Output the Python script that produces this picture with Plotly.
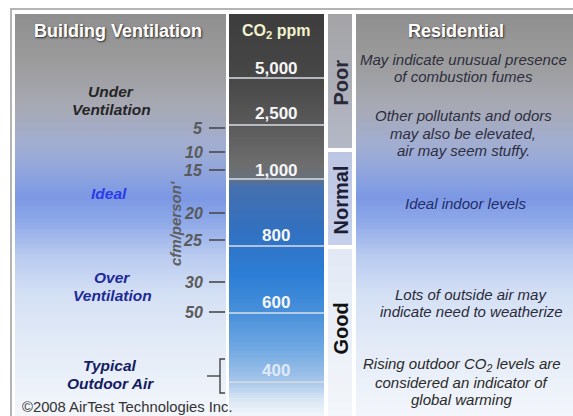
import numpy as np
import plotly.graph_objects as go

# ---------------- data ----------------
co2_levels = ["5,000", "2,500", "1,000", "800", "600", "400"]
air_quality = ["Poor", "Normal", "Good"]
cfm_ticks = ["5", "10", "15", "20", "25", "30", "50"]
ventilation_zones = ["Under<br>Ventilation", "Ideal", "Over<br>Ventilation", "Typical<br>Outdoor Air"]
residential_notes = [
    "May indicate unusual presence<br>of combustion fumes",
    "Other pollutants and odors<br>may also be elevated,<br>air may seem stuffy.",
    "Ideal indoor levels",
    "Lots of outside air may<br>indicate need to weatherize",
    "Rising outdoor CO<sub>2</sub> levels are<br>considered an indicator of<br>global warming",
]
headers = ["Building Ventilation", "CO<sub>2</sub> ppm", "Residential"]
axis_title = "cfm/person'"
copyright_text = "©2008 AirTest Technologies Inc."

# ---------------- layout (pixel positions) ----------------
W, H = 573, 416
TOP = 14
LEFT = (15, 226)
CO2 = (229, 324)
QUAL = (328, 352)
RIGHT = (356, 573)
co2_label_y = [68, 113, 170, 235, 302, 370]
co2_line_y = [78, 125, 179, 246, 313, 382]
quality_span = [(14, 148), (152, 245), (249, 416)]
quality_center = [83, 200, 329]
cfm_tick_y = [128, 152, 170, 213, 240, 282, 312]
zone_y = [100, 193, 286, 374]
zone_x = [111, 109, 112, 110]
zone_colors = ["#262626", "#2a3ce8", "#1e2a96", "#141c64"]
notes_y = [68, 133, 203, 303, 382]
notes_x = [463, 463, 465, 471, 462]
notes_colors = ["#2e2e3e", "#2e2e3e", "#1e2c6c", "#2a2a3a", "#2a2a2a"]

FONT = "Liberation Sans, Arial, sans-serif"

side_stops = [(14, "#8f8f8f"), (60, "#9b9b9b"), (105, "#a7a9b3"), (145, "#a2aed2"),
              (175, "#8ea4de"), (198, "#7c98e4"), (222, "#8fa9e8"), (255, "#b8caef"),
              (295, "#d4e0f4"), (345, "#e3ebf7"), (416, "#f3f6fb")]
co2_stops = [(14, "#3d3d3d"), (78, "#474747"), (125, "#5a5a5a"), (165, "#6e6e6e"),
             (179, "#68717e"), (186, "#4670ae"), (230, "#3270c0"), (275, "#2c7ed6"),
             (313, "#4890da"), (350, "#72a9e2"), (382, "#a6c6ea"), (398, "#d6e4f3"),
             (416, "#f2f6fb")]
quality_stops = [
    [(0, "#a4a4a6"), (1, "#b4b8c6")],
    [(0, "#bcc5e2"), (1, "#c6cfec")],
    [(0, "#e2e9f5"), (1, "#f3f6fa")],
]


def vgrad(x0, x1, y0, y1, stops, relative=False, n=160):
    ys = np.linspace(y0, y1, n + 1)
    centers = (ys[:-1] + ys[1:]) / 2
    z = centers.reshape(-1, 1)
    if relative:
        cs = [[s, c] for s, c in stops]
    else:
        cs = [[(s - y0) / (y1 - y0), c] for s, c in stops]
    return go.Heatmap(x=[x0, x1], y=ys, z=z, colorscale=cs, zmin=y0, zmax=y1,
                      showscale=False, hoverinfo="skip")


fig = go.Figure()
fig.add_trace(vgrad(LEFT[0], LEFT[1], TOP, H, side_stops))
fig.add_trace(vgrad(CO2[0], CO2[1], TOP, H, co2_stops))
fig.add_trace(vgrad(RIGHT[0], RIGHT[1], TOP, H, side_stops))
for (y0, y1), st in zip(quality_span, quality_stops):
    fig.add_trace(vgrad(QUAL[0], QUAL[1], y0, y1, st, relative=True, n=60))

shapes = []
# outer frame
shapes.append(dict(type="line", x0=10, x1=W, y0=9, y1=9, line=dict(color="#b4b4b4", width=2)))
shapes.append(dict(type="line", x0=11, x1=11, y0=9, y1=H, line=dict(color="#b4b4b4", width=2)))
# CO2 band lines
for y in co2_line_y:
    shapes.append(dict(type="line", x0=CO2[0], x1=CO2[1], y0=y, y1=y,
                       line=dict(color="#d8dde4", width=1.5)))
# cfm tick dashes
for y in cfm_tick_y:
    shapes.append(dict(type="line", x0=209, x1=225, y0=y, y1=y,
                       line=dict(color="#4a4a4a", width=1.6)))
# outdoor air bracket
shapes.append(dict(type="path", path="M 225 359 L 220 359 L 220 393 L 225 393",
                   line=dict(color="#444444", width=1.4)))
shapes.append(dict(type="line", x0=207, x1=220, y0=376, y1=376,
                   line=dict(color="#444444", width=1.4)))

ann = []
shadow = "1px 1px 2px #2a2a2a"
ann.append(dict(x=118, y=31, text="<b>" + headers[0] + "</b>", showarrow=False,
                font=dict(family=FONT, size=18, color="#ffffff", shadow=shadow)))
ann.append(dict(x=276, y=31, text="<b>" + headers[1] + "</b>", showarrow=False,
                font=dict(family=FONT, size=16, color="#f2f2cc")))
ann.append(dict(x=456, y=31, text="<b>" + headers[2] + "</b>", showarrow=False,
                font=dict(family=FONT, size=18, color="#ffffff", shadow=shadow)))

for lab, y in zip(co2_levels, co2_label_y):
    col = "#dfeaf6" if lab == "400" else "#f6f6f6"
    ann.append(dict(x=276, y=y, text="<b>" + lab + "</b>", showarrow=False,
                    font=dict(family=FONT, size=17, color=col)))

q_colors = ["#2a2a3a", "#1e1e36", "#111111"]
for lab, y, c in zip(air_quality, quality_center, q_colors):
    ann.append(dict(x=340.5, y=y, text="<b>" + lab + "</b>", showarrow=False, textangle=-90,
                    font=dict(family=FONT, size=20, color=c)))

for lab, y in zip(cfm_ticks, cfm_tick_y):
    ann.append(dict(x=205, y=y, text="<b><i>" + lab + "</i></b>", showarrow=False,
                    xanchor="right", font=dict(family=FONT, size=16, color="#5a5a5a")))

ann.append(dict(x=175, y=224, text="<b><i>" + axis_title + "</i></b>", showarrow=False,
                textangle=-90, font=dict(family=FONT, size=15, color="#5e5e5e")))

for txt, x, y, c in zip(ventilation_zones, zone_x, zone_y, zone_colors):
    lines = txt.split("<br>")
    n = len(lines)
    for i, ln in enumerate(lines):
        yy = y + (i - (n - 1) / 2) * 18
        ann.append(dict(x=x, y=yy, text="<b><i>" + ln + "</i></b>", showarrow=False,
                        font=dict(family=FONT, size=15.5, color=c)))

for txt, x, y, c in zip(residential_notes, notes_x, notes_y, notes_colors):
    lines = txt.split("<br>")
    n = len(lines)
    for i, ln in enumerate(lines):
        yy = y + (i - (n - 1) / 2) * 17.5
        ann.append(dict(x=x, y=yy, text="<i>" + ln + "</i>", showarrow=False,
                        font=dict(family=FONT, size=15, color=c)))

ann.append(dict(x=20, y=407, text=copyright_text, showarrow=False, xanchor="left",
                font=dict(family=FONT, size=14.8, color="#333333")))

for a in ann:
    a.update(xref="x", yref="y")

fig.update_layout(
    width=W, height=H, autosize=False,
    margin=dict(l=0, r=0, t=0, b=0, pad=0),
    paper_bgcolor="#ffffff", plot_bgcolor="#ffffff",
    xaxis=dict(range=[0, W], visible=False, fixedrange=True),
    yaxis=dict(range=[H, 0], visible=False, fixedrange=True),
    shapes=shapes, annotations=ann, showlegend=False,
)
fig.write_html(
    "out.html",
    config={"displayModeBar": False, "staticPlot": True},
    post_script="document.body.style.margin='0';document.body.style.overflow='hidden';",
)
